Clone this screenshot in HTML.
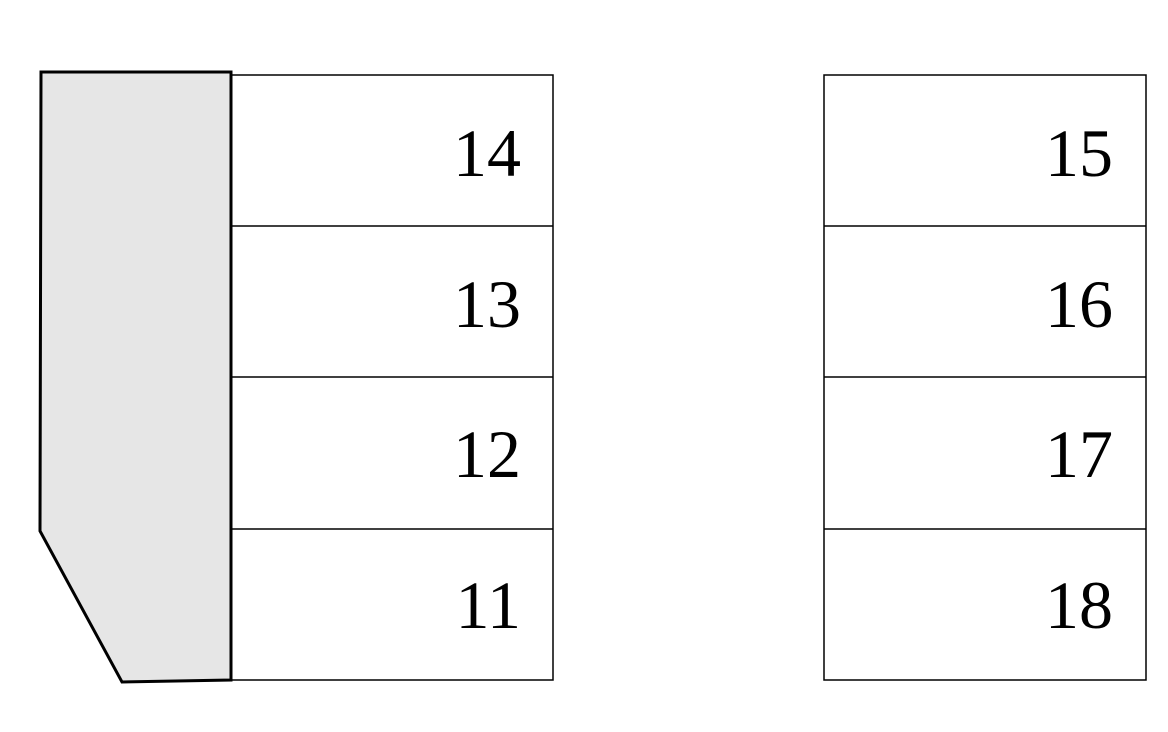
<!DOCTYPE html>
<html><head><meta charset="utf-8"><style>
html,body{margin:0;padding:0;background:#fff;}
svg{display:block;}
text{font-family:"Liberation Serif",serif;font-size:68px;fill:#000;}
</style></head><body>
<svg width="1168" height="732" viewBox="0 0 1168 732" xmlns="http://www.w3.org/2000/svg">
<rect x="0" y="0" width="1168" height="732" fill="#fff"/>
<g fill="none" stroke="#000" stroke-width="1.5">
<rect x="231" y="75" width="322" height="605"/>
<line x1="231" y1="226" x2="553" y2="226"/>
<line x1="231" y1="377" x2="553" y2="377"/>
<line x1="231" y1="529" x2="553" y2="529"/>
<rect x="824" y="75" width="322" height="605"/>
<line x1="824" y1="226" x2="1146" y2="226"/>
<line x1="824" y1="377" x2="1146" y2="377"/>
<line x1="824" y1="529" x2="1146" y2="529"/>
</g>
<polygon points="41,72 231,72 231,680 122,682 40,531" fill="#e6e6e6" stroke="#000" stroke-width="3"/>
<g text-anchor="end">
<text x="521" y="176">14</text>
<text x="521" y="327">13</text>
<text x="521" y="477">12</text>
<text x="521" y="628">11</text>
<text x="1113" y="176">15</text>
<text x="1113" y="327">16</text>
<text x="1113" y="477">17</text>
<text x="1113" y="628">18</text>
</g>
</svg>
</body></html>
